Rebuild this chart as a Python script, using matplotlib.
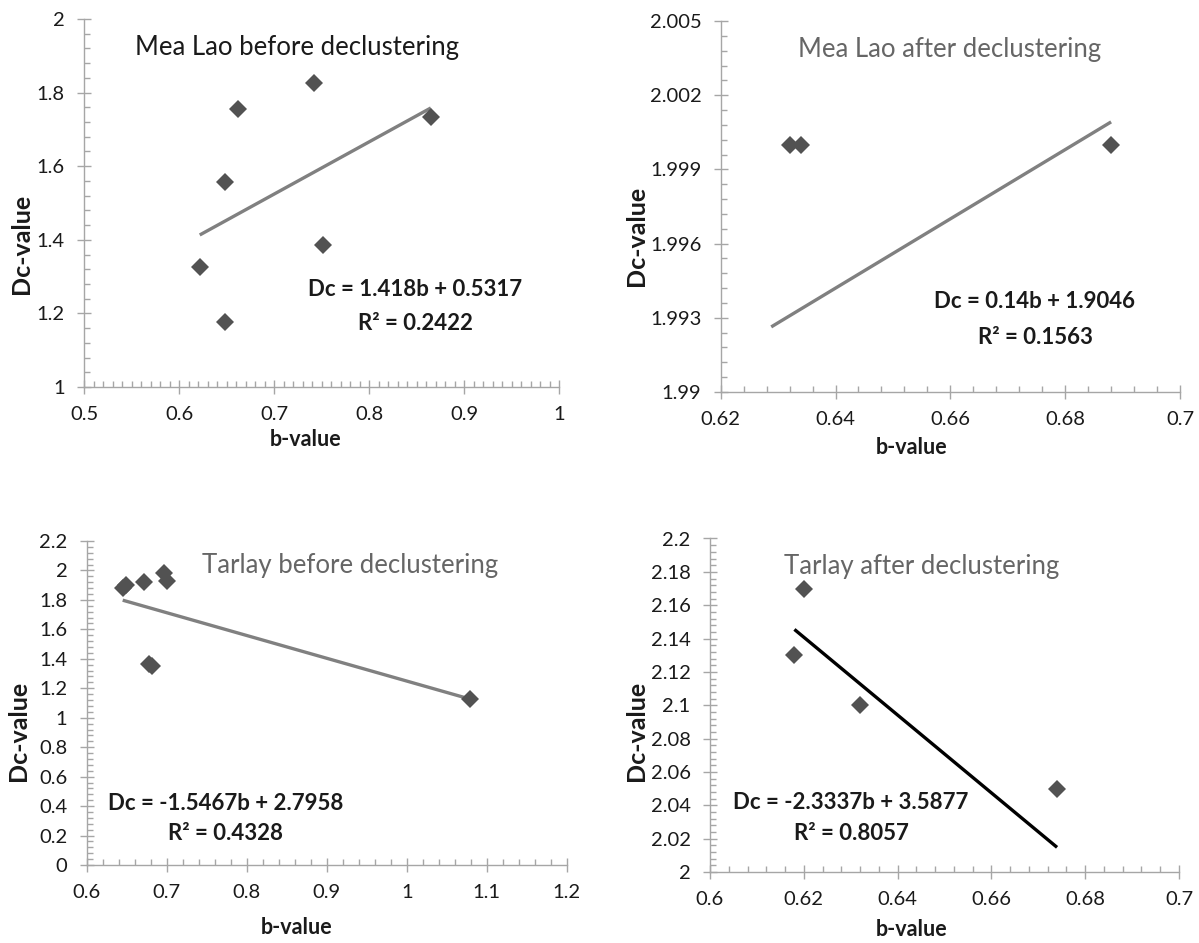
import matplotlib
matplotlib.use("Agg")
import matplotlib.pyplot as plt
from matplotlib.ticker import FixedLocator, FuncFormatter
import numpy as np

plt.rcParams['font.family'] = ['Lato', 'DejaVu Sans']

# ---------------- data ----------------
titles = ["Mea Lao before declustering", "Mea Lao after declustering",
          "Tarlay before declustering", "Tarlay after declustering"]

b1 = [0.622, 0.648, 0.648, 0.662, 0.742, 0.751, 0.865]
d1 = [1.325, 1.556, 1.176, 1.755, 1.825, 1.386, 1.733]

b2 = [0.632, 0.634, 0.688]
d2 = [2.000, 2.000, 2.000]

b3 = [0.645, 0.649, 0.671, 0.697, 0.700, 0.678, 0.681, 1.079]
d3 = [1.879, 1.901, 1.924, 1.980, 1.928, 1.362, 1.353, 1.127]

b4 = [0.618, 0.620, 0.632, 0.674]
d4 = [2.13, 2.17, 2.10, 2.05]

slopes = [1.418, 0.14, -1.5467, -2.3337]
intercepts = [0.5317, 1.9046, 2.7958, 3.5877]
r2 = [0.2422, 0.1563, 0.4328, 0.8057]
trend_x = [[0.6216, 0.865], [0.6288, 0.688], [0.645, 1.079], [0.618, 0.674]]

xlims = [(0.5, 1.0), (0.62, 0.70), (0.6, 1.2), (0.6, 0.7)]
ylims = [(1.0, 2.0), (1.99, 2.005), (0.0, 2.2), (2.0, 2.2)]
x_major = [0.1, 0.02, 0.1, 0.02]
x_minor = [0.01, 0.004, 0.02, 0.004]
y_major = [0.2, 0.003, 0.2, 0.02]
y_minor = [0.04, 0.0006, 0.04, 0.004]

# ---------------- layout ----------------
W, H = 1199, 943
fig = plt.figure(figsize=(W / 100, H / 100), dpi=100)

# axes boxes in pixels: left, top, right, bottom
boxes = [(84.3, 19, 559, 387), (720.7, 21, 1180, 392),
         (86.7, 541, 566.7, 865), (710, 538.5, 1179, 872)]

title_pos = [(297, 55), (950, 56.5), (350, 573), (922, 574)]
title_col = ['#1a1a1a', '#666666', '#666666', '#666666']
eq_pos = [((415, 296.5), (415, 330)), ((1035, 308), (1035, 344)),
          ((226, 810), (226, 840)), ((851, 809), (851, 840))]
xl_pos = [(306, 440), (912, 448), (297, 928), (912, 930)]
yl_pos = [(22, 244), (636, 236), (19, 731), (636, 731)]
line_col = ['#808080', '#808080', '#808080', '#000000']

bs = [b1, b2, b3, b4]
ds = [d1, d2, d3, d4]

axis_col = '#a6a6a6'
text_col = '#1a1a1a'


def ftext(x, y, s, **kw):
    fig.text(x / W, 1 - y / H, s, **kw)


def ticks(lo, hi, step):
    n = int(round((hi - lo) / step))
    return lo + step * np.arange(n + 1)


fmt = FuncFormatter(lambda v, p: f"{round(v, 6):g}")

for i in range(4):
    l, t, r, btm = boxes[i]
    ax = fig.add_axes([l / W, 1 - btm / H, (r - l) / W, (btm - t) / H])
    ax.set_xlim(*xlims[i])
    ax.set_ylim(*ylims[i])
    for s in ['top', 'right']:
        ax.spines[s].set_visible(False)
    for s in ['left', 'bottom']:
        ax.spines[s].set_color(axis_col)
        ax.spines[s].set_linewidth(1.0)
    ax.xaxis.set_major_locator(FixedLocator(ticks(*xlims[i], x_major[i])))
    ax.xaxis.set_minor_locator(FixedLocator(ticks(*xlims[i], x_minor[i])))
    ax.yaxis.set_major_locator(FixedLocator(ticks(*ylims[i], y_major[i])))
    ax.yaxis.set_minor_locator(FixedLocator(ticks(*ylims[i], y_minor[i])))
    ax.xaxis.set_major_formatter(fmt)
    ax.yaxis.set_major_formatter(fmt)
    ax.tick_params(which='major', direction='inout', length=10, width=1.0,
                   color=axis_col, labelcolor=text_col, labelsize=14.5, pad=9)
    ax.tick_params(which='minor', direction='in', length=4.5, width=1.0,
                   color=axis_col)
    ax.patch.set_alpha(0)

    tx = np.array(trend_x[i])
    ax.plot(tx, slopes[i] * tx + intercepts[i], color=line_col[i], lw=2.4,
            solid_capstyle='butt', zorder=2)
    ax.plot(bs[i], ds[i], linestyle='none', marker='D', ms=9.5,
            color='#525252', mew=0, zorder=3, clip_on=False)

    ftext(*title_pos[i], titles[i], ha='center', va='baseline',
          fontsize=18.5, color=title_col[i])
    (e1x, e1y), (e2x, e2y) = eq_pos[i]
    ftext(e1x, e1y, f"Dc = {slopes[i]:g}b + {intercepts[i]:g}", ha='center',
          va='baseline', fontsize=16, fontweight='bold', color=text_col)
    ftext(e2x, e2y, f"R\u00b2 = {r2[i]:g}", ha='center', va='baseline',
          fontsize=16, fontweight='bold', color=text_col)
    ftext(*xl_pos[i], "b-value", ha='center', va='center', fontsize=15.5,
          fontweight='bold', color=text_col)
    ftext(*yl_pos[i], "Dc-value", ha='center', va='center', fontsize=18,
          fontweight='bold', rotation=90, color=text_col)

fig.savefig("out.png", dpi=100)
